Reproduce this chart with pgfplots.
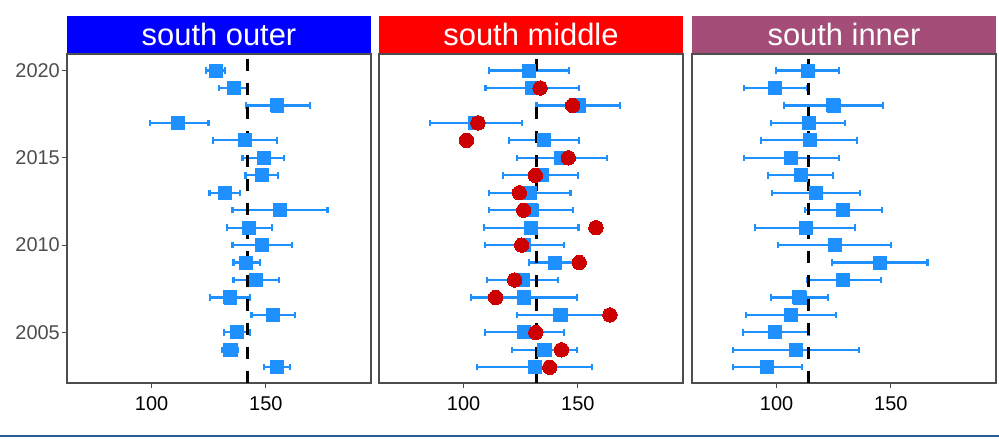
\documentclass[border=0pt]{standalone}
\usepackage{fontspec}
\setmainfont{Liberation Sans}
\usepackage{pgfplots}
\usepackage{pgfplotstable}
\pgfplotsset{compat=1.18}

\definecolor{dodger}{RGB}{30,144,255}
\definecolor{dred}{RGB}{204,0,0}
\definecolor{mauve}{RGB}{164,77,121}
\definecolor{bline}{RGB}{42,93,148}
\definecolor{frame}{RGB}{77,77,77}

\pgfplotstableread{
yr m lo hi
2020 128.1 123.7 132.0
2019 136.1 129.5 142.3
2018 155.0 141.2 169.2
2017 111.7 99.3 124.9
2016 140.8 127.0 154.8
2015 149.0 139.8 158.0
2014 148.1 141.1 155.3
2013 132.0 125.3 138.7
2012 156.1 135.4 177.0
2011 142.5 132.9 152.6
2010 148.1 135.4 161.4
2009 141.4 135.8 147.5
2008 145.5 135.8 155.8
2007 134.4 125.4 143.1
2006 153.2 143.7 162.7
2005 137.3 131.6 143.1
2004 134.5 131.0 137.6
2003 154.8 149.3 160.4
}\dataouter

\pgfplotstableread{
yr m lo hi c
2020 128.7 111.0 146.2 nan
2019 130.1 109.6 150.6 133.5
2018 150.6 131.9 168.4 147.7
2017 104.8 85.4 125.7 106.3
2016 135.2 119.7 150.6 101.3
2015 142.5 123.2 162.9 145.8
2014 134.1 117.3 150.0 131.4
2013 128.9 111.0 146.8 124.4
2012 129.7 111.0 148.0 126.3
2011 129.4 108.9 150.3 157.9
2010 126.6 109.2 144.0 125.4
2009 139.9 128.7 153.1 150.6
2008 126.0 110.2 141.4 122.4
2007 126.3 103.1 149.7 114.0
2006 142.4 123.5 163.7 164.0
2005 126.3 109.2 144.0 131.6
2004 135.4 121.3 149.6 142.8
2003 131.4 105.8 156.3 137.7
}\datamiddle

\pgfplotstableread{
yr m lo hi
2020 113.6 99.9 127.4
2019 99.1 85.7 113.3
2018 124.9 103.2 146.6
2017 114.0 97.7 130.1
2016 114.5 93.3 135.1
2015 106.4 85.7 127.4
2014 110.6 96.4 124.8
2013 117.3 98.1 136.4
2012 129.1 112.3 146.0
2011 112.8 90.7 134.4
2010 125.5 100.7 150.1
2009 145.1 124.2 166.0
2008 129.1 113.3 145.6
2007 110.0 97.4 122.6
2006 106.2 86.7 125.9
2005 99.1 85.2 114.0
2004 108.5 80.9 136.1
2003 95.8 80.9 111.0
}\datainner

\pgfplotsset{
  panel/.style={
    scale only axis, width=304bp, height=329bp,
    xmin=63, xmax=196, ymin=2002.1, ymax=2020.95,
    xtick={100,150}, xticklabels={100,150},
    ytick={2005,2010,2015,2020},
    xtick pos=bottom, ytick pos=left,
    tick align=outside, major tick length=5bp,
    tick style={color=frame, line width=1.1bp},
    axis line style={color=frame, line width=1.3bp},
    tick label style={font=\fontsize{20}{24}\selectfont},
    /pgf/number format/assume math mode=true,
    xticklabel style={inner sep=0bp, yshift=-8bp, text=black},
    yticklabel style={inner sep=2bp, text=frame},
  },
  errs/.style={only marks, mark=square*, mark size=6.3bp, color=dodger,
    mark options={fill=dodger, draw=dodger}, forget plot,
    error bars/x dir=both, error bars/x explicit,
    error bars/error mark=|,
    error bars/error bar style={color=dodger, line width=2.2bp, solid},
    error bars/error mark options={color=dodger, line width=2.2bp, mark size=3.2bp, solid}},
  vl/.style={black, line width=3.3bp, dash pattern=on 12bp off 12bp, forget plot},
  sq/.style={only marks, mark=square*, mark size=6.5bp, mark options={fill=dodger, draw=dodger, line width=0pt}},
  ci/.style={only marks, mark=*, mark size=7.2bp, mark options={fill=dred, draw=dred, line width=0pt}},
}

\begin{document}
\begin{tikzpicture}
\useasboundingbox (0,0) rectangle (999bp,439bp);

\begin{axis}[panel, name=p1, at={(67bp,56bp)}, anchor=south west,
  yticklabels={2005,2010,2015,2020}]
  \addplot[errs] table[x=m, y=yr, x error plus expr=\thisrow{hi}-\thisrow{m}, x error minus expr=\thisrow{m}-\thisrow{lo}] {\dataouter};
  \addplot[vl] coordinates {(142,2002.1) (142,2020.95)};
  \addplot[sq] table[x=m, y=yr] {\dataouter};
\end{axis}

\begin{axis}[panel, name=p2, at={(379bp,56bp)}, anchor=south west,
  yticklabels={}, ytick style={draw=none}]
  \addplot[errs] table[x=m, y=yr, x error plus expr=\thisrow{hi}-\thisrow{m}, x error minus expr=\thisrow{m}-\thisrow{lo}] {\datamiddle};
  \addplot[vl] coordinates {(132,2002.1) (132,2020.95)};
  \addplot[sq] table[x=m, y=yr] {\datamiddle};
  \addplot[ci] table[x=c, y=yr] {\datamiddle};
\end{axis}

\begin{axis}[panel, name=p3, at={(692bp,56bp)}, anchor=south west,
  yticklabels={}, ytick style={draw=none}]
  \addplot[errs] table[x=m, y=yr, x error plus expr=\thisrow{hi}-\thisrow{m}, x error minus expr=\thisrow{m}-\thisrow{lo}] {\datainner};
  \addplot[vl] coordinates {(114,2002.1) (114,2020.95)};
  \addplot[sq] table[x=m, y=yr] {\datainner};
\end{axis}

\fill[blue] ([yshift=0.65bp]p1.north west) rectangle ([yshift=38bp]p1.north east);
\fill[red] ([yshift=0.65bp]p2.north west) rectangle ([yshift=38bp]p2.north east);
\fill[mauve] ([yshift=0.65bp]p3.north west) rectangle ([yshift=38bp]p3.north east);
\node[text=white, font=\fontsize{31}{36}\selectfont, inner sep=0pt] at ([yshift=19.5bp]p1.north) {south outer};
\node[text=white, font=\fontsize{31}{36}\selectfont, inner sep=0pt] at ([yshift=19.5bp]p2.north) {south middle};
\node[text=white, font=\fontsize{31}{36}\selectfont, inner sep=0pt] at ([yshift=19.5bp]p3.north) {south inner};

\draw[bline, line width=2.3bp] (0,3.3bp) -- (999bp,3.3bp);
\end{tikzpicture}
\end{document}
